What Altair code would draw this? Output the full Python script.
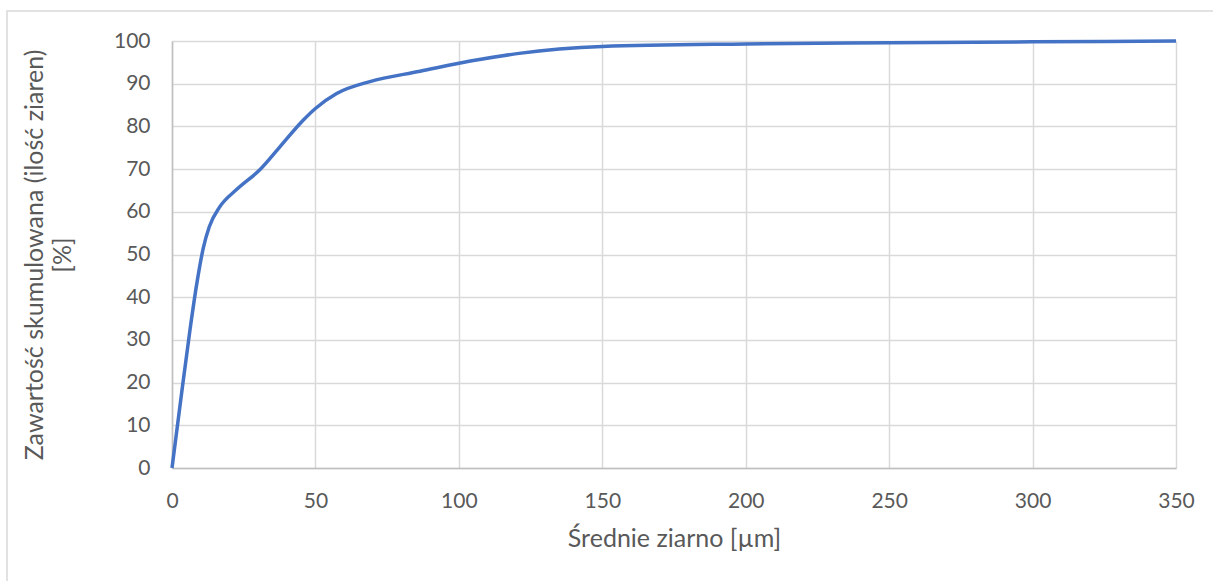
import altair as alt
import pandas as pd

# Cumulative grain content vs. mean grain size
grain_um = [0, 3, 6.3, 8.6, 10.9, 13, 16.7, 22.5, 30.7, 37.6, 45.8, 50, 57.4, 69, 86.5, 104, 121, 135, 150, 200, 250, 300, 350]
cumulative_pct = [0, 15.7, 32.5, 43, 51.5, 56.5, 61.2, 65.2, 69.9, 75.2, 81.5, 84.2, 87.7, 90.5, 92.9, 95.3, 97.1, 98.1, 98.7, 99.3, 99.6, 99.8, 100]

x_ticks = [0, 50, 100, 150, 200, 250, 300, 350]
y_ticks = [0, 10, 20, 30, 40, 50, 60, 70, 80, 90, 100]

df = pd.DataFrame({"x": grain_um, "y": cumulative_pct})

FONT = "Lato"
TEXT = "#595959"

# light outer frame of the chart area
frame = alt.Chart(pd.DataFrame({"a": [0]})).mark_rect(
    fill=None, stroke="#d9d9d9", strokeWidth=1.5
).encode(
    x=alt.value(-165), x2=alt.value(1100), y=alt.value(-30), y2=alt.value(600)
)

line = alt.Chart(df).mark_line(
    color="#4472C4", strokeWidth=3.5, interpolate="monotone"
).encode(
    x=alt.X(
        "x:Q",
        scale=alt.Scale(domain=[0, 350], nice=False),
        axis=alt.Axis(
            values=x_ticks, title="Średnie ziarno [µm]", ticks=False,
            labelPadding=22, titlePadding=15, grid=True, labelFlush=False,
        ),
    ),
    y=alt.Y(
        "y:Q",
        scale=alt.Scale(domain=[0, 100], nice=False),
        axis=alt.Axis(
            values=y_ticks, title=["Zawartość skumulowana (ilość ziaren)", "[%]"],
            ticks=False, labelPadding=22, titlePadding=38, grid=True,
            labelFlush=False,
        ),
    ),
)

chart = (
    alt.layer(frame, line)
    .properties(
        width=1004, height=427,
        autosize=alt.AutoSizeParams(type="none"),
        padding={"left": 172, "top": 41, "right": 37, "bottom": 113},
        background="white",
    )
    .configure_view(stroke=None)
    .configure_axis(
        labelFont=FONT, titleFont=FONT, labelFontSize=21, titleFontSize=25,
        labelColor=TEXT, titleColor=TEXT, titleFontWeight="normal",
        gridColor="#d9d9d9", gridWidth=1.5, domainColor="#bfbfbf", domainWidth=1.5,
    )
    .configure_axisY(domain=True, titleLineHeight=28)
)

chart.save("out.html", embed_options={"renderer": "svg", "actions": False})
